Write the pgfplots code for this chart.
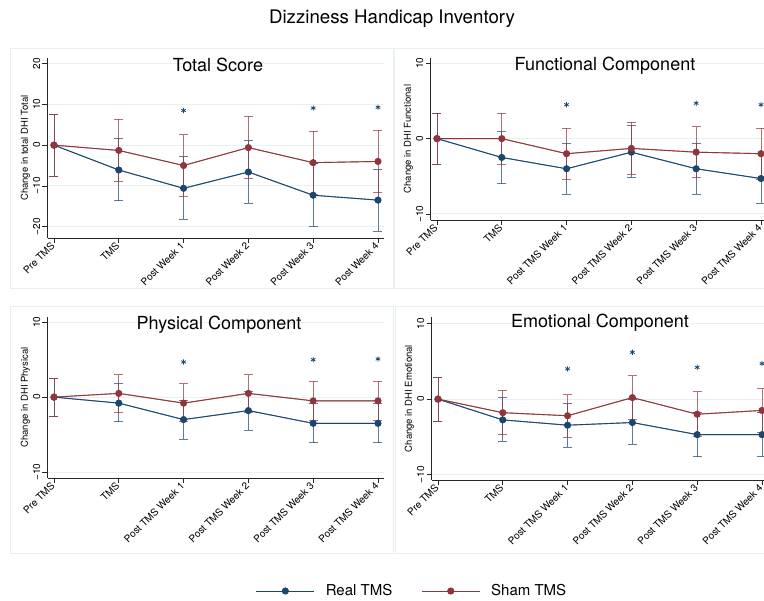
\documentclass[border=0pt]{standalone}
\usepackage{pgfplots}
\pgfplotsset{compat=1.18}
\usepackage{pgfplotstable}
\usepackage{fontspec}
\setmainfont{TeX Gyre Heros}
\definecolor{navy}{RGB}{26,71,111}
\definecolor{maroon}{RGB}{144,53,59}
\definecolor{gridc}{RGB}{232,240,242}
\definecolor{framec}{RGB}{232,240,242}

% x: time point; rm/rlo/rhi: Real TMS mean, lower, upper; sm/slo/shi: Sham TMS
\pgfplotstableread{
x rm rlo rhi sm slo shi
0 0 -7.6 7.6 0 -7.6 7.6
1 -6.1 -13.7 1.7 -1.3 -8.9 6.3
2 -10.6 -18.2 -2.8 -5.0 -12.6 2.6
3 -6.6 -14.3 1.1 -0.6 -8.1 7.1
4 -12.3 -20.0 -4.6 -4.3 -12.0 3.4
5 -13.5 -21.1 -5.9 -4.0 -11.7 3.7
}\tTotal
\pgfplotstableread{
x y
2 8.5
4 9.1
5 9.3
}\sTotal
\pgfplotstableread{
x rm rlo rhi sm slo shi
0 0 -3.4 3.4 0 -3.4 3.4
1 -2.5 -6.0 0.9 0 -3.4 3.4
2 -4.0 -7.4 -0.6 -2.0 -5.4 1.4
3 -1.8 -5.1 1.7 -1.3 -4.7 2.2
4 -4.0 -7.4 -0.6 -1.8 -5.2 1.6
5 -5.3 -8.6 -2.0 -2.0 -5.4 1.4
}\tFunc
\pgfplotstableread{
x y
2 4.5
4 4.7
5 4.5
}\sFunc
\pgfplotstableread{
x rm rlo rhi sm slo shi
0 0 -2.6 2.5 0 -2.6 2.5
1 -0.8 -3.3 1.8 0.5 -2.1 3.0
2 -3.0 -5.6 -0.4 -0.8 -3.3 1.8
3 -1.8 -4.4 0.8 0.5 -2.1 3.0
4 -3.5 -6.1 -0.9 -0.5 -3.1 2.1
5 -3.5 -6.1 -0.9 -0.5 -3.1 2.1
}\tPhys
\pgfplotstableread{
x y
2 4.7
4 5.0
5 5.1
}\sPhys
\pgfplotstableread{
x rm rlo rhi sm slo shi
0 0 -2.9 2.9 0 -2.9 2.9
1 -2.75 -5.6 0.2 -1.8 -4.7 1.2
2 -3.45 -6.4 -0.6 -2.2 -5.1 0.6
3 -3.1 -6.0 0.0 0.2 -2.7 3.1
4 -4.7 -7.6 -1.8 -2.0 -4.9 1.0
5 -4.7 -7.6 -1.8 -1.5 -4.4 1.4
}\tEmo
\pgfplotstableread{
x y
2 4.0
3 6.2
4 4.2
5 4.7
}\sEmo

\pgfplotsset{
  panel/.style={
    scale only axis, width=336.3bp, xmin=-0.1, xmax=5.09,
    anchor=south west, clip=false,
    axis lines=left, axis line style={-, line width=0.6bp, black!85},
    tick align=outside, major tick length=5bp,
    tick style={black!85, line width=0.6bp},
    xtick={0,...,5},
    ymajorgrids, grid style={gridc, line width=1bp},
    x tick label style={rotate=45, anchor=east, font=\fontsize{10bp}{12bp}\selectfont, inner sep=1.5bp},
    y tick label style={rotate=90, anchor=south, font=\fontsize{10bp}{12bp}\selectfont, inner sep=2bp},
    ylabel style={font=\fontsize{9.5bp}{11bp}\selectfont, inner sep=1bp},
  },
  ebreal/.style={forget plot, navy, opacity=0.7, line width=0.9bp, mark=none,
    error bars/.cd, y dir=both, y explicit,
    error bar style={line width=0.9bp},
    error mark options={rotate=90, mark size=4.5bp, line width=0.9bp}},
  ebsham/.style={forget plot, maroon, opacity=0.7, line width=0.9bp, mark=none,
    error bars/.cd, y dir=both, y explicit,
    error bar style={line width=0.9bp},
    error mark options={rotate=90, mark size=4.5bp, line width=0.9bp}},
  lreal/.style={navy, line width=0.9bp, mark=*, mark size=3.1bp, mark options={fill=navy, draw=navy}},
  lsham/.style={maroon, line width=0.9bp, mark=*, mark size=3.1bp, mark options={fill=maroon, draw=maroon}},
  stars/.style={forget plot, only marks, navy, mark=asterisk, mark size=2.6bp, mark options={line width=0.8bp}},
}

\begin{document}
\begin{tikzpicture}
\useasboundingbox[fill=white] (0bp,0bp) rectangle (764bp,601bp);

% panel frames
\draw[framec, line width=0.8bp] (10bp,553bp) rectangle (393bp,313bp);
\draw[framec, line width=0.8bp] (394bp,553bp) rectangle (790bp,313bp);
\draw[framec, line width=0.8bp] (10bp,295bp) rectangle (393bp,48bp);
\draw[framec, line width=0.8bp] (395bp,295bp) rectangle (790bp,48bp);

\node[font=\fontsize{18.7bp}{22bp}\selectfont] at (392bp,582bp) {Dizziness Handicap Inventory};

% ---------- Total Score ----------
\begin{axis}[panel, at={(47.5bp,363bp)}, height=180bp, ymin=-22.8, ymax=21.4,
  ytick={-20,-10,0,10,20}, yticklabels={−20,−10,0,10,20},
  xticklabels={Pre TMS,TMS,Post Week 1,Post Week 2,Post Week 3,Post Week 4},
  ylabel={Change in total DHI Total}]
\addplot[ebreal] table[x=x, y=rm, y error plus expr=\thisrow{rhi}-\thisrow{rm}, y error minus expr=\thisrow{rm}-\thisrow{rlo}]{\tTotal};
\addplot[ebsham] table[x=x, y=sm, y error plus expr=\thisrow{shi}-\thisrow{sm}, y error minus expr=\thisrow{sm}-\thisrow{slo}]{\tTotal};
\addplot[lreal] table[x=x, y=rm]{\tTotal};
\addplot[lsham] table[x=x, y=sm]{\tTotal};
\addplot[stars] table[x=x, y=y]{\sTotal};
\end{axis}
\node[font=\fontsize{18bp}{21bp}\selectfont] at (218bp,536bp) {Total Score};

% ---------- Functional ----------
\begin{axis}[panel, at={(430.5bp,381bp)}, height=162bp, ymin=-10.8, ymax=10.7,
  ytick={-10,0,10}, yticklabels={−10,0,10},
  xticklabels={Pre TMS,TMS,Post TMS Week 1,Post TMS Week 2,Post TMS Week 3,Post TMS Week 4},
  ylabel={Change in DHI Functional}]
\addplot[ebreal] table[x=x, y=rm, y error plus expr=\thisrow{rhi}-\thisrow{rm}, y error minus expr=\thisrow{rm}-\thisrow{rlo}]{\tFunc};
\addplot[ebsham] table[x=x, y=sm, y error plus expr=\thisrow{shi}-\thisrow{sm}, y error minus expr=\thisrow{sm}-\thisrow{slo}]{\tFunc};
\addplot[lreal] table[x=x, y=rm]{\tFunc};
\addplot[lsham] table[x=x, y=sm]{\tFunc};
\addplot[stars] table[x=x, y=y]{\sFunc};
\end{axis}
\node[font=\fontsize{18bp}{21bp}\selectfont] at (605bp,535bp) {Functional Component};

% ---------- Physical ----------
\begin{axis}[panel, at={(47.5bp,123bp)}, height=161bp, ymin=-10.8, ymax=10.7,
  ytick={-10,0,10}, yticklabels={−10,0,10},
  xticklabels={Pre TMS,TMS,Post TMS Week 1,Post TMS Week 2,Post TMS Week 3,Post TMS Week 4},
  ylabel={Change in DHI Physical},
  legend columns=2,
  legend style={at={(1.087,-0.702)}, anchor=center, draw=none, fill=none,
    font=\fontsize{15bp}{18bp}\selectfont,
    /tikz/every odd column/.append style={column sep=7bp},
    /tikz/every even column/.append style={column sep=25bp},
    nodes={inner sep=4bp}},
  legend image code/.code={\draw[mark repeat=2, mark phase=2, #1] plot coordinates {(0bp,0bp) (29bp,0bp) (58bp,0bp)};}]
\addplot[ebreal] table[x=x, y=rm, y error plus expr=\thisrow{rhi}-\thisrow{rm}, y error minus expr=\thisrow{rm}-\thisrow{rlo}]{\tPhys};
\addplot[ebsham] table[x=x, y=sm, y error plus expr=\thisrow{shi}-\thisrow{sm}, y error minus expr=\thisrow{sm}-\thisrow{slo}]{\tPhys};
\addplot[lreal] table[x=x, y=rm]{\tPhys};
\addlegendentry{Real TMS}
\addplot[lsham] table[x=x, y=sm]{\tPhys};
\addlegendentry{Sham TMS}
\addplot[stars] table[x=x, y=y]{\sPhys};
\end{axis}
\node[font=\fontsize{18bp}{21bp}\selectfont] at (219bp,276bp) {Physical Component};

% ---------- Emotional ----------
\begin{axis}[panel, at={(431.5bp,121bp)}, height=163bp, ymin=-10.7, ymax=10.86,
  ytick={-10,0,10}, yticklabels={−10,0,10},
  xticklabels={Pre TMS,TMS,Post TMS Week 1,Post TMS Week 2,Post TMS Week 3,Post TMS Week 4},
  ylabel={Change in DHI Emotional}]
\addplot[ebreal] table[x=x, y=rm, y error plus expr=\thisrow{rhi}-\thisrow{rm}, y error minus expr=\thisrow{rm}-\thisrow{rlo}]{\tEmo};
\addplot[ebsham] table[x=x, y=sm, y error plus expr=\thisrow{shi}-\thisrow{sm}, y error minus expr=\thisrow{sm}-\thisrow{slo}]{\tEmo};
\addplot[lreal] table[x=x, y=rm]{\tEmo};
\addplot[lsham] table[x=x, y=sm]{\tEmo};
\addplot[stars] table[x=x, y=y]{\sEmo};
\end{axis}
\node[font=\fontsize{18bp}{21bp}\selectfont] at (600bp,278bp) {Emotional Component};
\end{tikzpicture}
\end{document}
